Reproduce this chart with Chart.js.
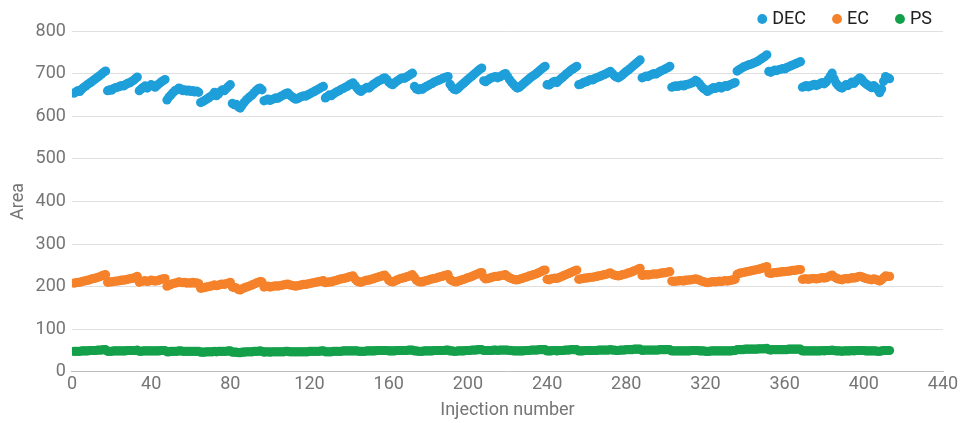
<!DOCTYPE html>
<html><head><meta charset="utf-8">
<script src="https://cdn.jsdelivr.net/npm/chart.js@4/dist/chart.umd.min.js"></script>
<style>html,body{margin:0;padding:0;background:#fff}#wrap{width:965px;height:423px}</style>
</head><body><div id="wrap"><canvas id="c" width="965" height="423"></canvas></div>
<script>
const seriesNames = ['DEC', 'EC', 'PS'];
const xTicks = [0, 40, 80, 120, 160, 200, 240, 280, 320, 360, 400, 440];
const yTicks = [0, 100, 200, 300, 400, 500, 600, 700, 800];

const dec = [
  654,657,660,658,664,668,671,675,678,681,685,688,692,695,699,703,706,
  660,662,661,665,667,668,670,672,671,674,677,678,681,684,688,692,
  660,664,668,671,666,670,674,672,668,672,676,680,683,686,
  638,645,650,655,660,662,666,664,660,662,659,661,658,660,657,659,656,
  632,634,637,640,643,646,650,656,648,652,658,662,660,665,670,674,
  630,627,628,622,619,626,632,638,642,646,650,655,660,664,666,662,
  636,638,640,637,639,641,643,642,645,648,650,653,655,650,646,643,640,641,644,646,648,647,650,652,655,657,660,662,665,668,670,
  643,646,650,648,652,655,658,660,663,665,668,670,673,676,678,672,666,661,658,662,665,668,666,670,674,677,680,683,685,688,690,
  686,680,676,674,678,682,685,688,690,689,692,695,698,701,
  670,664,662,665,663,667,670,672,675,677,680,682,684,686,688,690,692,693,
  675,668,663,662,665,670,674,678,682,686,690,694,698,702,706,710,713,
  683,681,685,688,690,692,693,690,692,695,698,700,694,686,680,675,670,
  666,668,672,676,680,684,688,692,695,698,702,706,710,714,717,
  674,673,676,680,682,679,684,688,692,696,700,704,708,711,714,717,
  674,675,678,680,681,684,686,685,688,690,692,694,696,698,700,703,705,700,695,692,690,693,697,701,705,708,712,716,720,724,728,732,
  690,692,694,693,696,698,700,699,702,705,707,709,712,714,717,
  668,670,671,670,672,673,671,674,675,676,678,680,684,681,676,670,665,662,658,661,664,667,665,668,670,666,669,672,670,673,675,677,679,
  706,709,712,715,717,719,721,722,724,726,728,731,734,737,740,744,
  705,703,706,708,707,709,710,712,711,714,716,718,720,722,724,726,728,
  668,670,672,669,671,673,675,672,674,677,679,676,680,686,694,701,688,678,672,668,666,670,674,672,676,680,677,682,686,690,687,680,676,673,670,667,672,668,662,655,664,682,693,690,688
];

const ec = [
  208,209,210,210,212,213,214,215,216,218,219,220,222,223,225,227,228,
  210,211,211,212,213,213,214,215,215,216,217,218,219,220,222,224,
  210,212,213,214,212,213,215,214,213,214,215,217,218,219,
  201,203,205,207,208,209,211,210,209,210,208,209,208,210,208,209,207,
  196,197,198,199,200,201,202,204,202,203,205,206,205,207,208,210,
  199,198,197,193,192,195,197,199,200,202,204,206,208,210,212,211,
  199,200,201,199,200,201,202,201,202,203,204,205,206,204,203,202,201,202,203,204,205,205,206,207,208,209,210,211,212,213,214,
  209,210,211,211,213,214,215,217,218,219,220,221,223,224,225,218,213,211,210,212,214,215,215,217,218,220,221,223,224,226,227,
  222,215,212,211,213,215,217,219,220,221,223,224,226,228,
  222,215,212,211,211,213,214,215,217,218,219,220,222,223,224,226,227,228,
  217,214,212,211,213,214,216,217,219,221,222,224,226,228,230,232,233,
  222,218,219,220,222,223,224,224,225,226,227,228,224,221,219,217,216,
  216,217,219,220,222,223,225,226,228,229,231,233,235,238,239,
  217,216,218,219,220,219,221,223,225,227,229,231,233,235,237,239,
  217,218,219,220,220,221,222,222,223,224,225,226,227,228,229,231,232,229,227,226,225,226,228,229,230,232,233,235,237,239,241,243,
  226,227,228,227,228,229,230,229,230,231,232,232,233,234,235,
  213,212,213,213,214,214,213,215,215,216,216,217,218,217,215,213,212,210,209,210,211,212,211,212,213,212,213,214,213,214,215,216,217,
  229,231,232,233,234,235,236,237,238,239,240,241,242,244,245,247,
  232,231,232,233,233,234,234,235,235,236,236,237,238,238,239,240,240,
  217,218,218,217,218,219,219,218,219,220,221,220,221,223,225,227,223,220,218,217,216,218,219,218,219,221,220,221,223,224,223,221,219,218,217,216,218,217,215,213,216,221,225,224,224
];

const ps = [
  48,48,48,48,49,49,49,49,50,50,50,50,51,51,51,52,52,
  48,48,48,49,49,49,49,49,49,49,50,50,50,50,50,51,
  48,48,49,49,49,49,49,49,49,49,49,50,50,50,
  47,47,48,48,48,48,49,49,48,48,48,48,48,48,48,48,48,
  46,46,46,47,47,47,47,48,47,48,48,48,48,48,49,49,
  46,46,46,45,45,46,46,47,47,47,47,48,48,48,49,48,
  46,47,47,46,47,47,47,47,47,47,47,48,48,47,47,47,47,47,47,47,47,47,47,48,48,48,48,48,48,49,49,
  47,47,47,47,48,48,48,48,48,49,49,49,49,49,49,49,49,48,48,48,48,49,49,49,49,49,50,50,50,50,50,
  50,49,49,49,49,50,50,50,50,50,50,51,51,51,
  49,49,48,48,48,49,49,49,49,49,50,50,50,50,50,50,51,51,
  49,49,48,48,49,49,49,49,50,50,50,51,51,51,52,52,52,
  50,50,50,50,50,51,51,50,51,51,51,51,51,50,50,49,49,
  49,49,49,49,50,50,50,51,51,51,51,52,52,52,52,
  49,49,49,50,50,49,50,50,50,51,51,51,52,52,52,52,
  49,49,49,50,50,50,50,50,50,50,51,51,51,51,51,51,52,51,51,50,50,51,51,51,52,52,52,52,53,53,53,53,
  50,51,51,51,51,51,51,51,51,52,52,52,52,52,52,
  49,49,49,49,49,49,49,49,49,49,50,50,50,50,49,49,49,48,48,48,49,49,49,49,49,49,49,49,49,49,49,50,50,
  52,52,52,52,53,53,53,53,53,53,53,54,54,54,54,55,
  52,51,52,52,52,52,52,52,52,52,53,53,53,53,53,53,53,
  49,49,49,49,49,49,49,49,49,49,50,49,50,50,50,51,50,49,49,49,48,49,49,49,49,50,49,50,50,50,50,50,49,49,49,49,49,49,48,48,49,50,50,50,50
];

const seriesValues = [dec, ec, ps];
const seriesColors = ['#1E9FD9', '#F5822A', '#14A04A'];

const FONT = 'Roboto, "Noto Sans", sans-serif';
const datasets = seriesNames.map((name, k) => ({
  label: name,
  data: seriesValues[k].map((v, i) => ({ x: i + 1, y: v })),
  backgroundColor: seriesColors[k],
  borderColor: seriesColors[k],
  borderWidth: 0,
  pointRadius: 4.6,
  pointHoverRadius: 4.6,
  pointBorderWidth: 0
}));

// shrink the legend box so the plot starts close under it
const legendTighten = {
  id: 'legendTighten',
  beforeLayout(chart) {
    const lg = chart.legend;
    if (lg && !lg._tightened) {
      const orig = lg.fit.bind(lg);
      lg.fit = function () { orig(); this.height = Math.max(0, this.height - 7); };
      lg._tightened = true;
    }
  }
};

new Chart(document.getElementById('c'), {
  type: 'scatter',
  data: { datasets },
  plugins: [legendTighten],
  options: {
    responsive: false,
    animation: false,
    devicePixelRatio: 1,
    layout: { padding: { left: 5, right: 3, top: -20, bottom: 2 } },
    plugins: {
      legend: {
        position: 'top',
        align: 'end',
        labels: {
          usePointStyle: true,
          pointStyle: 'circle',
          boxWidth: 2,
          boxHeight: 7,
          padding: 30,
          color: '#212121',
          font: { family: FONT, size: 18 }
        }
      },
      tooltip: { enabled: false }
    },
    scales: {
      x: {
        type: 'linear',
        min: xTicks[0],
        max: xTicks[xTicks.length - 1],
        afterBuildTicks: s => { s.ticks = xTicks.map(v => ({ value: v })); },
        afterFit: s => { s.paddingRight = 22; },
        ticks: { color: '#757575', font: { family: FONT, size: 18 }, padding: 2, maxRotation: 0 },
        grid: { display: false, drawTicks: false },
        border: { display: true, color: '#bdbdbd', width: 1 },
        title: { display: true, text: 'Injection number', color: '#757575', font: { family: FONT, size: 18 }, padding: { top: 2, bottom: 0 } }
      },
      y: {
        min: yTicks[0],
        max: yTicks[yTicks.length - 1],
        afterBuildTicks: s => { s.ticks = yTicks.map(v => ({ value: v })); },
        ticks: { color: '#757575', font: { family: FONT, size: 18 }, padding: 6 },
        grid: { color: '#e0e0e0', drawTicks: false },
        border: { display: false },
        title: { display: true, text: 'Area', color: '#757575', font: { family: FONT, size: 18 }, padding: { top: 3, bottom: 0 } }
      }
    }
  }
});
</script>
</body></html>
